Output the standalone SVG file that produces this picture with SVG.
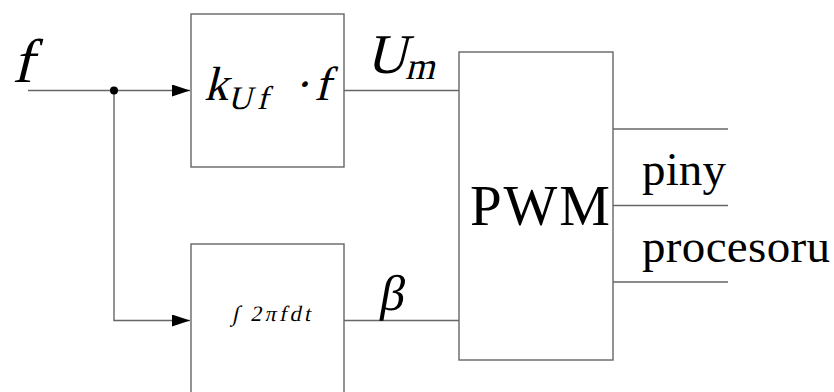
<svg xmlns="http://www.w3.org/2000/svg" width="834" height="392" viewBox="0 0 834 392">
<defs>
<style>
.box{fill:#fff;stroke:#666;stroke-width:1.4}
.ln{fill:none;stroke:#666;stroke-width:1.4}
.t{font-family:"Liberation Serif",serif;fill:#000}
</style>
<marker id="ah" markerWidth="20" markerHeight="12" refX="18" refY="6" orient="auto" markerUnits="userSpaceOnUse">
<path d="M0,0 L18,6 L0,12 Z" fill="#000"/>
</marker>
</defs>
<rect width="834" height="392" fill="#fff"/>
<g id="connectors">
<line class="ln" x1="28" y1="90.5" x2="190" y2="90.5" marker-end="url(#ah)"/>
<polyline class="ln" points="114,90.5 114,320.5 190,320.5" marker-end="url(#ah)"/>
<circle cx="114" cy="90.5" r="4" fill="#000"/>
<line class="ln" x1="344" y1="90.5" x2="459" y2="90.5"/>
<line class="ln" x1="344" y1="320.5" x2="459" y2="320.5"/>
<line class="ln" x1="613" y1="129" x2="728" y2="129"/>
<line class="ln" x1="613" y1="205.5" x2="728" y2="205.5"/>
<line class="ln" x1="613" y1="282" x2="728" y2="282"/>
</g>
<g id="input-label" transform="translate(12,82) skewX(-14)"><text class="t" x="0" y="0" font-size="62">f</text></g>
<g id="node-gain">
<rect class="box" x="191" y="14" width="153" height="153"/>
<g transform="translate(204,100) skewX(-14)">
<text class="t" x="0" y="0" font-size="48">k<tspan x="26" font-size="33" dy="9" textLength="40">Uf</tspan><tspan x="89" dy="-9">·</tspan><tspan x="110">f</tspan></text>
</g>
</g>
<g id="node-integrator">
<rect class="box" x="191" y="244" width="153" height="153"/>
<g transform="translate(232,321) skewX(-12)">
<text class="t" x="0" y="0" font-size="22" textLength="78">∫ 2πfdt</text>
</g>
</g>
<g id="node-pwm">
<rect class="box" x="459" y="52" width="154" height="308"/>
<text class="t" x="470" y="225" font-size="57" textLength="140">PWM</text>
</g>
<g id="labels">
<g transform="translate(366,73) skewX(-14)"><text class="t" x="0" y="0" font-size="56">U<tspan font-size="38" dy="6">m</tspan></text></g>
<g transform="translate(378,310) skewX(-10)"><text class="t" x="0" y="0" font-size="50">β</text></g>
<text class="t" x="642" y="185" font-size="47" textLength="84">piny</text>
<text class="t" x="642" y="262" font-size="47" textLength="188">procesoru</text>
</g>
</svg>
